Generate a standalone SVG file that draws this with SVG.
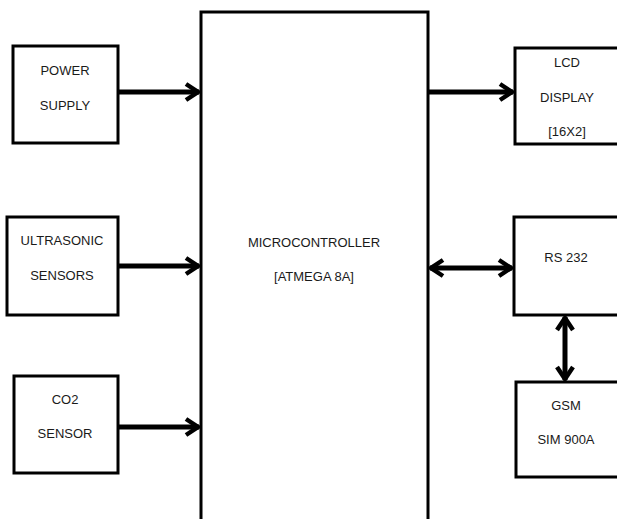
<svg xmlns="http://www.w3.org/2000/svg" width="617" height="519" viewBox="0 0 617 519">
<style>
.box{fill:#fff;stroke:#000;stroke-width:3}
.lbl{font-family:"Liberation Sans",Arial,sans-serif;font-size:13px;fill:#1a1a1a;text-anchor:middle}
.conn{stroke:#000;stroke-width:5;fill:none}
</style>
<defs>
<marker id="ah" viewBox="0 0 18 20" markerUnits="userSpaceOnUse" markerWidth="18" markerHeight="20" refX="16" refY="10" orient="auto-start-reverse">
<path d="M3,2 L15,10 L3,18" fill="none" stroke="#000" stroke-width="4.5"/>
</marker>
</defs>
<rect width="617" height="519" fill="#fff"/>
<g id="mcu"><rect class="box" x="201" y="12" width="227" height="520"/>
<text class="lbl" x="314" y="247">MICROCONTROLLER</text>
<text class="lbl" x="314" y="281">[ATMEGA 8A]</text></g>
<g id="power"><rect class="box" x="13" y="46" width="105" height="97"/>
<text class="lbl" x="65" y="75">POWER</text>
<text class="lbl" x="65" y="110">SUPPLY</text></g>
<g id="ultrasonic"><rect class="box" x="7" y="217" width="111" height="98"/>
<text class="lbl" x="62" y="245">ULTRASONIC</text>
<text class="lbl" x="62" y="280">SENSORS</text></g>
<g id="co2"><rect class="box" x="14" y="376" width="104" height="97"/>
<text class="lbl" x="65" y="404">CO2</text>
<text class="lbl" x="65" y="438">SENSOR</text></g>
<g id="lcd"><rect class="box" x="515" y="48" width="110" height="96"/>
<text class="lbl" x="567" y="67">LCD</text>
<text class="lbl" x="567" y="102">DISPLAY</text>
<text class="lbl" x="567" y="136">[16X2]</text></g>
<g id="rs232"><rect class="box" x="514" y="217" width="110" height="98"/>
<text class="lbl" x="566" y="262">RS 232</text></g>
<g id="gsm"><rect class="box" x="516" y="382" width="110" height="95"/>
<text class="lbl" x="566" y="410">GSM</text>
<text class="lbl" x="566" y="444">SIM 900A</text></g>
<g id="connectors">
<line class="conn" x1="119" y1="92" x2="199" y2="92" marker-end="url(#ah)"/>
<line class="conn" x1="119" y1="266" x2="199" y2="266" marker-end="url(#ah)"/>
<line class="conn" x1="119" y1="427" x2="199" y2="427" marker-end="url(#ah)"/>
<line class="conn" x1="429" y1="92" x2="513" y2="92" marker-end="url(#ah)"/>
<line class="conn" x1="430" y1="268" x2="512" y2="268" marker-start="url(#ah)" marker-end="url(#ah)"/>
<line class="conn" x1="565" y1="317" x2="565" y2="380" marker-start="url(#ah)" marker-end="url(#ah)"/>
</g>
</svg>
